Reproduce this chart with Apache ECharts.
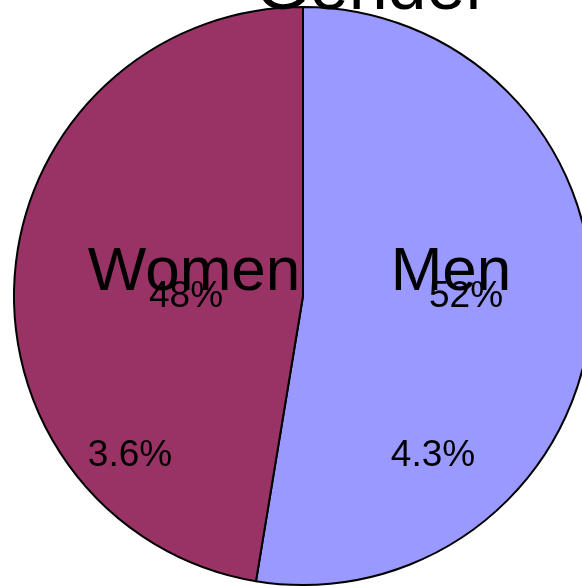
<!DOCTYPE html>
<html>
<head>
<meta charset="utf-8">
<script src="https://cdn.jsdelivr.net/npm/echarts@6/dist/echarts.min.js"></script>
<style>
  html, body { margin: 0; padding: 0; background: #fff; }
  #chart { width: 582px; height: 586px; }
</style>
</head>
<body>
<div id="chart"></div>
<script>
// data
const titleText = 'Gender';
const categories = ['Men', 'Women'];
const shares = [52.6, 47.4];
const shareLabels = ['52%', '48%'];
const extraLabels = ['4.3%', '3.6%'];
const colors = ['#9999FF', '#993366'];

// label spots (px), same order as categories
const namePos = [[451, 273], [194, 273]];
const sharePos = [[466, 297], [186, 297]];
const extraPos = [[433, 456], [130, 456]];

const font = 'Liberation Sans, Arial, sans-serif';

const myChart = echarts.init(document.getElementById('chart'));

const texts = [];
categories.forEach(function (name, i) {
  texts.push({ type: 'text', x: namePos[i][0], y: namePos[i][1], z: 10,
    style: { text: name, fill: '#000', font: '62px ' + font, align: 'center', verticalAlign: 'middle' } });
  texts.push({ type: 'text', x: sharePos[i][0], y: sharePos[i][1], z: 11,
    style: { text: shareLabels[i], fill: '#000', font: '37px ' + font, align: 'center', verticalAlign: 'middle' } });
  texts.push({ type: 'text', x: extraPos[i][0], y: extraPos[i][1], z: 10,
    style: { text: extraLabels[i], fill: '#000', font: '37px ' + font, align: 'center', verticalAlign: 'middle' } });
});
texts.push({ type: 'text', x: 372, y: -10, z: 10,
  style: { text: titleText, fill: '#000', font: '70px ' + font, align: 'center', verticalAlign: 'middle' } });

const option = {
  animation: false,
  graphic: texts,
  series: [
    {
      type: 'pie',
      center: [303, 296],
      radius: [0, 289],
      startAngle: 90,
      clockwise: true,
      silent: true,
      label: { show: false },
      labelLine: { show: false },
      itemStyle: { borderColor: '#000', borderWidth: 2 },
      data: categories.map(function (name, i) {
        return { name: name, value: shares[i], itemStyle: { color: colors[i] } };
      }),
    },
  ],
};
myChart.setOption(option);
</script>
</body>
</html>
